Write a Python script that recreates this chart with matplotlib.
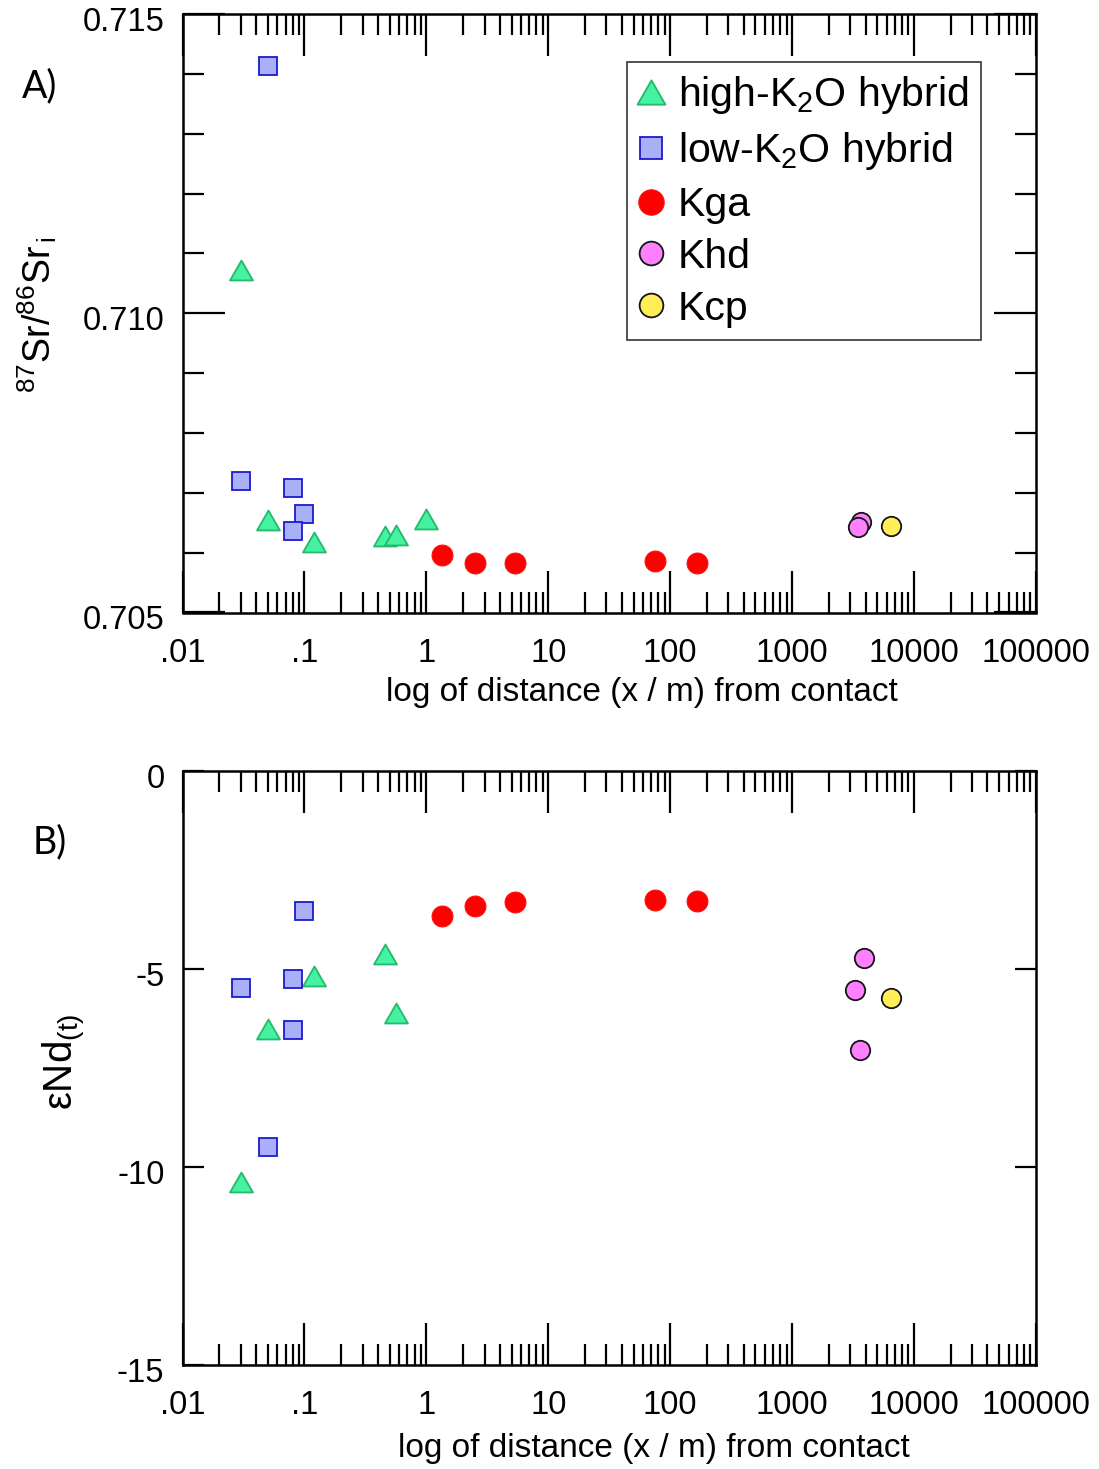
import matplotlib
matplotlib.use("Agg")
import matplotlib.pyplot as plt
from matplotlib.ticker import LogLocator, FixedLocator, NullFormatter, MultipleLocator
from matplotlib.lines import Line2D
from matplotlib.path import Path
from matplotlib.transforms import ScaledTranslation

plt.rcParams['font.family'] = ['Liberation Sans', 'DejaVu Sans']
plt.rcParams['mathtext.fontset'] = 'custom'
plt.rcParams['mathtext.rm'] = 'Liberation Sans'
plt.rcParams['mathtext.it'] = 'Liberation Sans:italic'
plt.rcParams['axes.unicode_minus'] = False

# ---------------- data ----------------
# Panel A: 87Sr/86Sr initial vs distance
hiK_x_A = [0.03, 0.05, 0.12, 0.46, 0.56, 1.0]
hiK_y_A = [0.71072, 0.70655, 0.70618, 0.70627, 0.70630, 0.70656]
loK_x_A = [0.05, 0.03, 0.08, 0.10, 0.08]
loK_y_A = [0.71413, 0.70720, 0.70708, 0.70665, 0.70636]
kga_x_A = [1.34, 2.51, 5.34, 75.0, 166.0]
kga_y_A = [0.70596, 0.70582, 0.70582, 0.70586, 0.70582]
khd_x_A = [3680.0, 3480.0]
khd_y_A = [0.70651, 0.70643]
kcp_x_A = [6490.0]
kcp_y_A = [0.70644]

# Panel B: eNd(t) vs distance
hiK_x_B = [0.03, 0.05, 0.12, 0.46, 0.56]
hiK_y_B = [-10.39, -6.52, -5.18, -4.62, -6.10]
loK_x_B = [0.03, 0.05, 0.10, 0.08, 0.08]
loK_y_B = [-5.47, -9.49, -3.53, -5.25, -6.55]
kga_x_B = [1.34, 2.51, 5.34, 75.0, 166.0]
kga_y_B = [-3.66, -3.41, -3.31, -3.26, -3.29]
khd_x_B = [3290.0, 3900.0, 3610.0]
khd_y_B = [-5.52, -4.71, -7.05]
kcp_x_B = [6450.0]
kcp_y_B = [-5.72]

x_ticks = [0.01, 0.1, 1, 10, 100, 1000, 10000, 100000]
x_ticklabels = ['.01', '.1', '1', '10', '100', '1000', '10000', '100000']
yA_ticks = [0.705, 0.710, 0.715]
yA_ticklabels = ['0.705', '0.710', '0.715']
yB_ticks = [0, -5, -10, -15]
yB_ticklabels = ['0', '-5', '-10', '-15']
legend_labels = ['high-K$_2$O hybrid', 'low-K$_2$O hybrid', 'Kga', 'Khd', 'Kcp']

# ---------------- styles ----------------
tri = Path([(0, 0.87), (-1, -0.87), (1, -0.87), (0, 0.87)],
           [Path.MOVETO, Path.LINETO, Path.LINETO, Path.CLOSEPOLY])
styles = {
    'hiK': dict(marker=tri, s=16.5, fc='#44f2a2', ec='#26b86c', lw=1.3),
    'loK': dict(marker='s', s=13.5, fc='#aab0f8', ec='#1a1ad2', lw=1.3),
    'kga': dict(marker='o', s=15.0, fc='#ff0000', ec='#ff1010', lw=0.8),
    'khd': dict(marker='o', s=14.0, fc='#ff80ff', ec='#151515', lw=1.3),
    'kcp': dict(marker='o', s=14.0, fc='#ffee58', ec='#151515', lw=1.3),
}

TICKFS = 23.5
LABELFS = 24

def plot_series(ax, key, xs, ys):
    st = styles[key]
    ax.plot(xs, ys, linestyle='none', marker=st['marker'], markersize=st['s'],
            markerfacecolor=st['fc'], markeredgecolor=st['ec'], markeredgewidth=st['lw'],
            clip_on=False, zorder=3)

def style_axes(ax, ymajor_len):
    ax.set_xscale('log')
    ax.set_xlim(0.01, 100000)
    ax.xaxis.set_major_locator(FixedLocator(x_ticks))
    ax.set_xticklabels(x_ticklabels)
    ax.xaxis.set_minor_locator(LogLocator(base=10, subs=[2, 3, 4, 5, 6, 7, 8, 9], numticks=20))
    ax.xaxis.set_minor_formatter(NullFormatter())
    ax.tick_params(axis='x', which='major', direction='in', length=30, width=1.6,
                   top=True, bottom=True, labelsize=TICKFS, pad=18)
    ax.tick_params(axis='x', which='minor', direction='in', length=15, width=1.6,
                   top=True, bottom=True)
    ax.tick_params(axis='y', which='major', direction='in', length=ymajor_len, width=1.6,
                   left=True, right=True, labelsize=TICKFS, pad=13)
    ax.tick_params(axis='y', which='minor', direction='in', length=15, width=1.6,
                   left=True, right=True)
    for sp in ax.spines.values():
        sp.set_linewidth(1.8)
    off = ScaledTranslation(0, -5 / 100, fig.dpi_scale_trans)
    for lab in ax.get_yticklabels():
        lab.set_transform(lab.get_transform() + off)

W, H = 1099, 1469
fig = plt.figure(figsize=(W / 100, H / 100), dpi=100)

# ---------------- Panel A ----------------
axA = fig.add_axes([182.5 / W, 1 - 612.5 / H, 853.5 / W, 598.5 / H])
plot_series(axA, 'hiK', hiK_x_A, hiK_y_A)
plot_series(axA, 'loK', loK_x_A, loK_y_A)
plot_series(axA, 'kga', kga_x_A, kga_y_A)
plot_series(axA, 'khd', khd_x_A, khd_y_A)
plot_series(axA, 'kcp', kcp_x_A, kcp_y_A)
axA.set_ylim(0.705, 0.715)
axA.set_yticks(yA_ticks)
axA.set_yticklabels(yA_ticklabels)
axA.yaxis.set_minor_locator(MultipleLocator(0.001))
style_axes(axA, 30)
axA.set_xlabel('log of distance (x / m) from contact', fontsize=LABELFS)
axA.xaxis.set_label_coords((642 - 182.5) / 853.5, 1 - (692 - 14) / 598.5)
axA.xaxis.label.set_va('center')

handles = []
for key in ['hiK', 'loK', 'kga', 'khd', 'kcp']:
    st = styles[key]
    handles.append(Line2D([], [], linestyle='none', marker=st['marker'],
                          markersize=st['s'] * 1.22, markerfacecolor=st['fc'],
                          markeredgecolor=st['ec'], markeredgewidth=st['lw']))
leg = axA.legend(handles, legend_labels, loc='upper left',
                 bbox_to_anchor=((626.7 - 182.5) / 853.5, 1 - (61.7 - 14) / 598.5),
                 borderaxespad=0, fontsize=29.5, frameon=True, fancybox=False,
                 edgecolor='#333333', framealpha=1, handlelength=0.6,
                 handletextpad=0.35, labelspacing=0.34, borderpad=0.3)
leg.get_frame().set_linewidth(1.2)

fig.text(40 / W, 1 - 86 / H, 'A)', fontsize=27, family='Lato', ha='center', va='center')
fig.text(37 / W, 1 - 315 / H, r'$^{87}$Sr/$^{86}$Sr$_{\,\mathrm{i}}$', fontsize=27,
         rotation=90, ha='center', va='center')

# ---------------- Panel B ----------------
axB = fig.add_axes([182.5 / W, 1 - 1365 / H, 853.5 / W, 594 / H])
plot_series(axB, 'hiK', hiK_x_B, hiK_y_B)
plot_series(axB, 'loK', loK_x_B, loK_y_B)
plot_series(axB, 'kga', kga_x_B, kga_y_B)
plot_series(axB, 'khd', khd_x_B, khd_y_B)
plot_series(axB, 'kcp', kcp_x_B, kcp_y_B)
axB.set_ylim(-15, 0)
axB.set_yticks(yB_ticks)
axB.set_yticklabels(yB_ticklabels)
style_axes(axB, 15)
axB.set_xlabel('log of distance (x / m) from contact', fontsize=LABELFS)
axB.xaxis.set_label_coords((654 - 182.5) / 853.5, -(1448 - 1365) / 594)
axB.xaxis.label.set_va('center')

fig.text(50 / W, 1 - 842 / H, 'B)', fontsize=27, family='Lato', ha='center', va='center')
fig.text(64 / W, 1 - 1062 / H, 'ε' + r'Nd$_{\mathrm{(t)}}$', fontsize=29,
         rotation=90, ha='center', va='center')

fig.savefig('out.png', dpi=100)
